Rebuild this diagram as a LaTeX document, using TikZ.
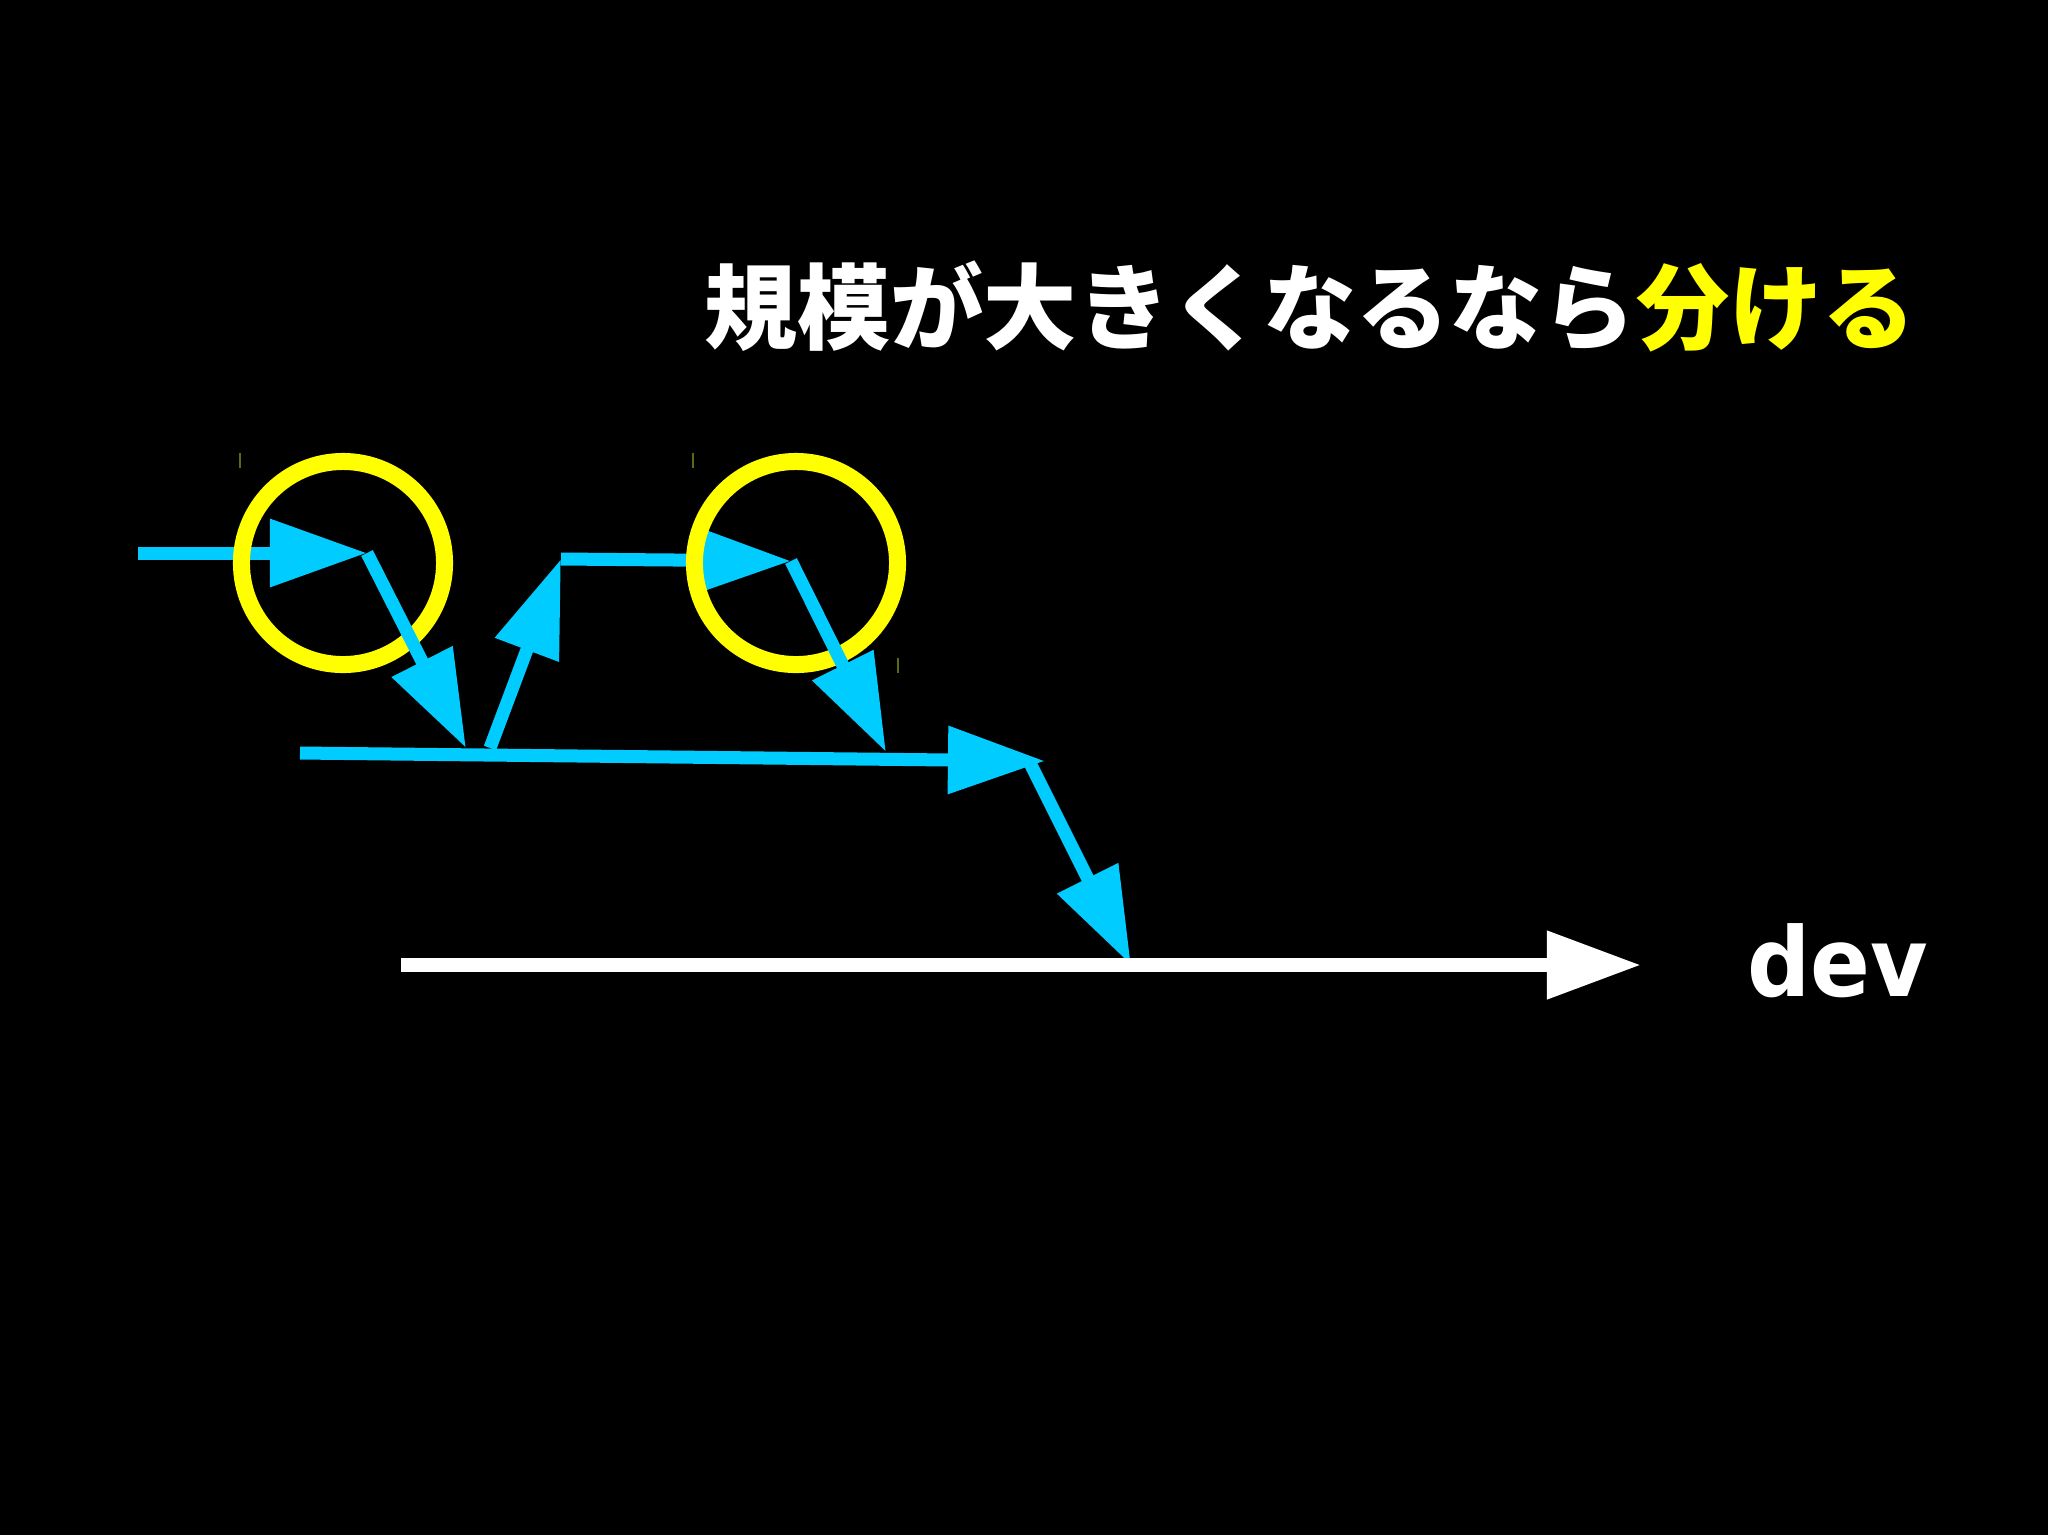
\documentclass[tikz,border=0pt]{standalone}
\usepackage{fontspec}
\usepackage{tikz}
\usetikzlibrary{arrows.meta,shapes}
\newfontfamily\cjk{Noto Sans CJK JP}
\newfontfamily\devfont{DejaVu Sans}
\definecolor{flow}{RGB}{0,204,255}
\definecolor{hilite}{RGB}{255,255,0}
\definecolor{speck}{RGB}{95,105,20}
\tikzstyle{arr} = [draw=flow,line width=0.13cm,-{Triangle[length=0.97cm,width=0.65cm]}]
\tikzstyle{ring} = [circle,draw=hilite,line width=0.17cm,minimum size=2.03cm,inner sep=0pt]
\tikzstyle{axis} = [draw=white,line width=0.14cm,-{Triangle[length=0.94cm,width=0.65cm]}]
\tikzstyle{speckle} = [draw=speck,line width=0.012cm]

\begin{document}
\begin{tikzpicture}[x=0.01cm,y=-0.01cm]
    \fill[black] (0,0) rectangle (2048,1535);

    \foreach \x/\y/\name in {138/553/in,367/553/a,466/748/b,
    490/748/c,561/559/d,791/561/e,886/752/f,300/753/g,
    1045/761/h,1030/763/j,1131/965/k,401/965/w,1641/965/z}
        \coordinate (\name) at (\x,\y);

    % flat arrows under the rings
    \path[arr] (in) -- (a);
    \path[arr] (d) -- (e);
    \path[arr] (g) -- (h);

    \node[ring] (r1) at (343,563) {};
    \node[ring] (r2) at (796,563) {};

    \foreach \source/\dest in {a/b,c/d,e/f,j/k}
        \path[arr] (\source) -- (\dest);

    \path[axis] (w) -- (z);

    \node[font=\devfont\bfseries\fontsize{27.3}{30}\selectfont,text=white,
        anchor=base,inner sep=0pt,xscale=0.92] (dev) at (1838,996) {dev};
    \node[font=\cjk\bfseries\fontsize{26.5}{30}\selectfont,text=white,
        inner sep=0pt] (title) at (1310,306)
        {規模が大きくなるなら\textcolor{hilite}{分ける}};

    % stray marks
    \foreach \x/\y in {240/453,693/453,898/658}
        \path[speckle] (\x,\y) -- ++(0,15);
\end{tikzpicture}
\end{document}
